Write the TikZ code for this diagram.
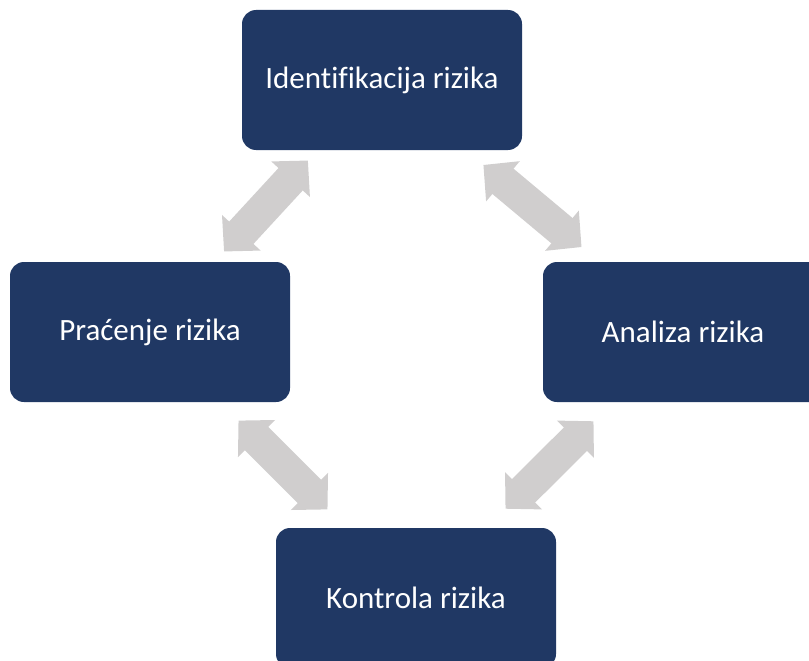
\documentclass[tikz,border=0pt]{standalone}
\usepackage{fontspec}
\setmainfont{Carlito}[Ligatures=NoCommon]
\usepackage{tikz}
\usepackage{xcolor}
\usetikzlibrary{arrows.meta}

\definecolor{boxblue}{HTML}{203864}
\definecolor{arrowgray}{HTML}{D0CECE}

\begin{document}
\begin{tikzpicture}
  [x=1pt,y=-1pt,
   every node/.style={rectangle,rounded corners=14pt,fill=boxblue,text=white,
     minimum width=280pt,minimum height=140pt,font=\fontsize{31}{37}\selectfont},
   link/.style={draw=arrowgray,line width=33pt,
     {Triangle[length=25.5pt,width=51pt]}-{Triangle[length=25.5pt,width=51pt]}}]

  \useasboundingbox (0,0) rectangle (809,661);
  \clip (0,0) rectangle (809,661);

  \node (id) at (382,80) {Identifikacija rizika};
  \node (pr) at (150,332) {Praćenje rizika};
  \node (an) at (683,332) {Analiza rizika};
  \node (ko) at (416,598) {Kontrola rizika};

  \foreach \from/\to/\gap in {pr/id/14,id/an/23,pr/ko/26,ko/an/27}
    \draw [link,shorten <=\gap pt,shorten >=\gap pt] (\from) -- (\to);
\end{tikzpicture}
\end{document}
